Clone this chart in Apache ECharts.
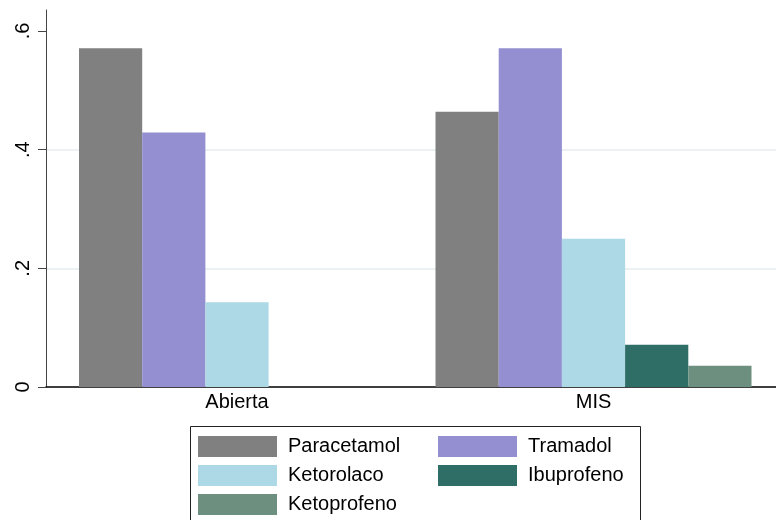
<!DOCTYPE html>
<html>
<head>
<meta charset="utf-8">
<script src="https://cdn.jsdelivr.net/npm/echarts@6/dist/echarts.min.js"></script>
<style>html,body{margin:0;padding:0;background:#fff}#c{width:776px;height:520px}</style>
</head>
<body>
<div id="c"></div>
<script>
const categories = ['Abierta', 'MIS'];
const seriesNames = ['Paracetamol', 'Tramadol', 'Ketorolaco', 'Ibuprofeno', 'Ketoprofeno'];
const paracetamol = [0.571, 0.464];
const tramadol = [0.429, 0.571];
const ketorolaco = [0.143, 0.25];
const ibuprofeno = [0, 0.0714];
const ketoprofeno = [0, 0.0357];
const yTicks = [0, 0.2, 0.4, 0.6];
const colors = ['#808080', '#938FD1', '#ADD8E6', '#2E6E66', '#6C8F80'];

const values = [paracetamol, tramadol, ketorolaco, ibuprofeno, ketoprofeno];
const YMAX = 0.6354;
const FONT = 'Liberation Sans, Arial, sans-serif';

const chart = echarts.init(document.getElementById('c'), null, {renderer: 'canvas'});
chart.setOption({
  animation: false,
  backgroundColor: '#fff',
  grid: [
    {left: 46, right: 0, top: 10, bottom: 133},
    {left: 58.75, right: 4.25, top: 10, bottom: 133}
  ],
  xAxis: [
    {gridIndex: 0, type: 'value', min: 0, max: 1,
     axisLine: {show: true, onZero: false, lineStyle: {color: '#000', width: 1.5}},
     axisTick: {show: false}, axisLabel: {show: false}, splitLine: {show: false}},
    {gridIndex: 1, type: 'category', data: categories,
     axisLine: {show: false}, axisTick: {show: false},
     axisLabel: {fontSize: 20, color: '#000', fontFamily: FONT, margin: 5}}
  ],
  yAxis: [
    {gridIndex: 0, type: 'value', min: 0, max: YMAX,
     axisLine: {show: true, lineStyle: {color: '#444', width: 1}},
     axisTick: {show: true, length: 8, customValues: yTicks, lineStyle: {color: '#444'}},
     axisLabel: {show: true, rotate: 90, customValues: yTicks, fontSize: 20, color: '#000', fontFamily: FONT, margin: 13,
       formatter: v => (v === 0 ? '0' : String(+v.toFixed(2)).replace(/^0\./, '.'))},
     splitLine: {show: true, showMinLine: false, showMaxLine: false, lineStyle: {color: '#E6EEF0', width: 1.5}}
    },
    {gridIndex: 1, type: 'value', min: 0, max: YMAX, show: false, splitLine: {show: false}}
  ],
  legend: [
    {left: 198, top: 436, orient: 'vertical', padding: 0, itemWidth: 79, itemHeight: 21, itemGap: 8,
     icon: 'rect', data: [seriesNames[0], seriesNames[2], seriesNames[4]],
     textStyle: {fontSize: 20, color: '#000', fontFamily: FONT, padding: [0, 0, 0, 6]}},
    {left: 438, top: 436, orient: 'vertical', padding: 0, itemWidth: 79, itemHeight: 21, itemGap: 8,
     icon: 'rect', data: [seriesNames[1], seriesNames[3]],
     textStyle: {fontSize: 20, color: '#000', fontFamily: FONT, padding: [0, 0, 0, 6]}}
  ],
  graphic: [
    {type: 'rect', shape: {x: 190.5, y: 426.5, width: 450, height: 110},
     style: {fill: 'none', stroke: '#222', lineWidth: 1}, silent: true}
  ],
  series: seriesNames.map((name, i) => ({
    name: name,
    type: 'bar',
    xAxisIndex: 1,
    yAxisIndex: 1,
    data: values[i],
    barGap: '0%',
    barCategoryGap: '11.36%',
    itemStyle: {color: colors[i]}
  }))
});
</script>
</body>
</html>
